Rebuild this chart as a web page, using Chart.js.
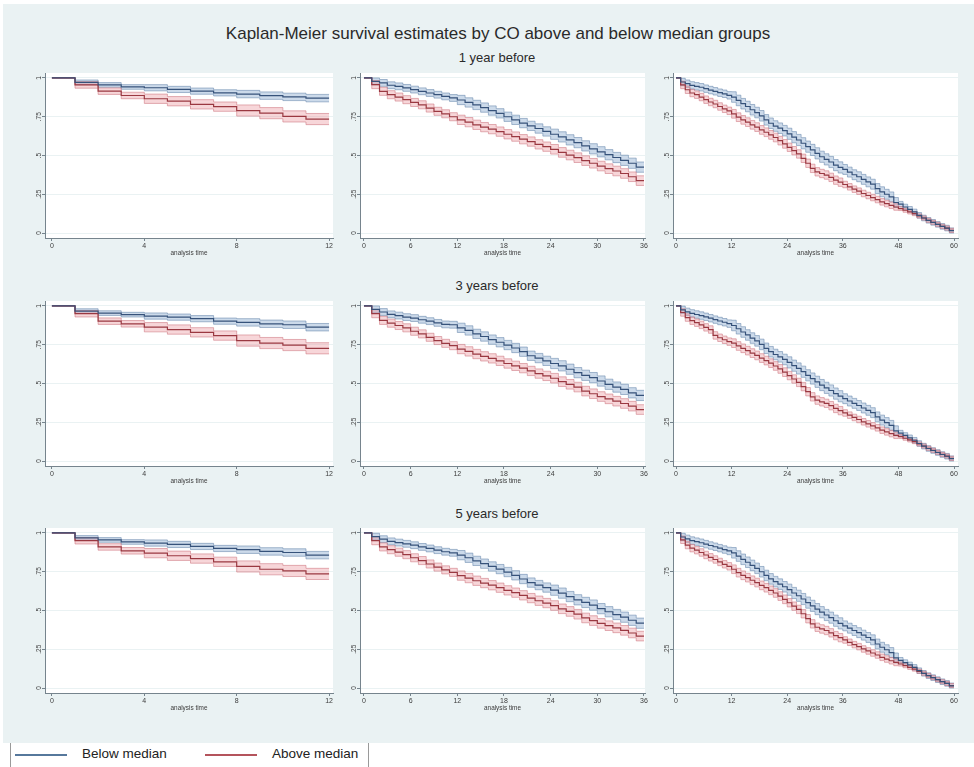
<!DOCTYPE html>
<html><head><meta charset="utf-8">
<script src="https://cdn.jsdelivr.net/npm/chart.js@4.4.1/dist/chart.umd.min.js"></script>
<style>
html,body{margin:0;padding:0;background:#fff;width:974px;height:767px;overflow:hidden;font-family:"Liberation Sans",Arial,sans-serif;}
#graph{position:absolute;left:3px;top:4px;width:971px;height:739px;background:#eaf2f3;}
.t{position:absolute;white-space:nowrap;color:#2a2a2a;transform:translateX(-50%);line-height:1;}
canvas{position:absolute;}
#legend{position:absolute;left:0;top:743px;width:974px;height:24px;background:#fff;}
.vl{position:absolute;top:0;width:1px;height:24px;background:#9a9a9a;}
.ll{position:absolute;height:1.5px;top:11px;}
.lt{position:absolute;top:4px;font-size:13.5px;color:#222;line-height:1;}
</style></head>
<body>
<div id="graph"></div>
<div class="t" id="mainTitle" style="left:498px;top:25px;font-size:17px;"></div>
<div id="legend">
  <div class="vl" style="left:10px"></div>
  <div class="ll" style="left:15px;width:52px;background:#56789c"></div>
  <div class="lt" id="lg0" style="left:82px"></div>
  <div class="ll" style="left:205px;width:52px;background:#b4545c"></div>
  <div class="lt" id="lg1" style="left:272px"></div>
  <div class="vl" style="left:368px"></div>
</div>
<script>
// ---------------- data ----------------
const mainTitle = 'Kaplan-Meier survival estimates by CO above and below median groups';
const rowTitles = ['1 year before', '3 years before', '5 years before'];
const seriesNames = ['Below median', 'Above median'];
const xAxisTitle = 'analysis time';
const yTicks = [0, 0.25, 0.5, 0.75, 1];
const yTickLabels = ['0', '.25', '.5', '.75', '1'];
const timeTicks12 = [0, 4, 8, 12];
const timeTicks36 = [0, 6, 12, 18, 24, 30, 36];
const timeTicks60 = [0, 12, 24, 36, 48, 60];

// survival estimate on each monthly interval [t, t+1)
const below_1y_12 = [1, 0.972, 0.955, 0.942, 0.937, 0.926, 0.915, 0.904, 0.896, 0.886, 0.878, 0.870];
const above_1y_12 = [1, 0.955, 0.915, 0.887, 0.866, 0.850, 0.830, 0.815, 0.790, 0.773, 0.752, 0.735];
const below_1y_36 = [1, 0.978, 0.968, 0.953, 0.946, 0.936, 0.925, 0.914, 0.903, 0.892, 0.881, 0.871,
  0.858, 0.842, 0.826, 0.809, 0.790, 0.772, 0.750, 0.730, 0.709, 0.691, 0.674, 0.655,
  0.637, 0.620, 0.601, 0.583, 0.562, 0.543, 0.524, 0.505, 0.487, 0.469, 0.450, 0.425];
const above_1y_36 = [1, 0.957, 0.914, 0.892, 0.877, 0.860, 0.842, 0.827, 0.806, 0.785, 0.769, 0.750,
  0.730, 0.715, 0.698, 0.683, 0.670, 0.654, 0.637, 0.622, 0.605, 0.590, 0.572, 0.557,
  0.540, 0.520, 0.503, 0.486, 0.467, 0.450, 0.432, 0.415, 0.400, 0.384, 0.363, 0.338];
const below_1y_60 = [1, 0.974, 0.963, 0.952, 0.946, 0.940, 0.931, 0.922, 0.914, 0.905, 0.898, 0.888,
  0.877, 0.855, 0.834, 0.816, 0.795, 0.777, 0.756, 0.730, 0.708, 0.690, 0.676, 0.660,
  0.640, 0.618, 0.600, 0.579, 0.557, 0.536, 0.514, 0.492, 0.475, 0.458, 0.438, 0.423,
  0.410, 0.393, 0.376, 0.363, 0.346, 0.330, 0.315, 0.287, 0.266, 0.250, 0.233, 0.197,
  0.186, 0.168, 0.153, 0.136, 0.114, 0.097, 0.082, 0.069, 0.056, 0.043, 0.032, 0.015];
const above_1y_60 = [1, 0.955, 0.924, 0.903, 0.892, 0.877, 0.860, 0.845, 0.832, 0.816, 0.801, 0.788,
  0.769, 0.747, 0.730, 0.715, 0.698, 0.683, 0.665, 0.650, 0.633, 0.616, 0.596, 0.575,
  0.553, 0.531, 0.510, 0.482, 0.450, 0.417, 0.395, 0.384, 0.374, 0.359, 0.341, 0.328,
  0.313, 0.298, 0.283, 0.270, 0.255, 0.242, 0.229, 0.216, 0.201, 0.190, 0.179, 0.168,
  0.158, 0.147, 0.136, 0.125, 0.110, 0.097, 0.082, 0.069, 0.056, 0.043, 0.032, 0.017];

const below_3y_12 = [1, 0.967, 0.954, 0.944, 0.935, 0.928, 0.918, 0.902, 0.894, 0.885, 0.879, 0.863];
const above_3y_12 = [1, 0.950, 0.902, 0.885, 0.863, 0.848, 0.830, 0.809, 0.777, 0.761, 0.748, 0.727];
const below_3y_36 = [1, 0.978, 0.961, 0.946, 0.938, 0.928, 0.922, 0.911, 0.902, 0.891, 0.881, 0.879,
  0.859, 0.842, 0.820, 0.803, 0.783, 0.766, 0.748, 0.729, 0.705, 0.679, 0.664, 0.646,
  0.629, 0.614, 0.592, 0.570, 0.553, 0.538, 0.516, 0.495, 0.477, 0.462, 0.440, 0.423];
const above_3y_36 = [1, 0.950, 0.907, 0.889, 0.874, 0.859, 0.837, 0.820, 0.798, 0.777, 0.759, 0.744,
  0.722, 0.707, 0.690, 0.675, 0.662, 0.646, 0.629, 0.614, 0.599, 0.581, 0.564, 0.549,
  0.534, 0.512, 0.495, 0.477, 0.451, 0.434, 0.416, 0.401, 0.386, 0.371, 0.354, 0.332];
const below_3y_60 = [1, 0.975, 0.962, 0.952, 0.945, 0.938, 0.930, 0.921, 0.912, 0.903, 0.895, 0.886,
  0.874, 0.853, 0.832, 0.813, 0.793, 0.775, 0.752, 0.727, 0.705, 0.687, 0.672, 0.655,
  0.636, 0.615, 0.597, 0.576, 0.553, 0.532, 0.511, 0.490, 0.472, 0.455, 0.435, 0.418,
  0.402, 0.387, 0.372, 0.358, 0.342, 0.327, 0.312, 0.285, 0.264, 0.248, 0.230, 0.195,
  0.180, 0.165, 0.150, 0.134, 0.113, 0.096, 0.081, 0.068, 0.055, 0.042, 0.031, 0.015];
const above_3y_60 = [1, 0.958, 0.925, 0.905, 0.892, 0.878, 0.862, 0.848, 0.810, 0.795, 0.782, 0.770,
  0.760, 0.742, 0.727, 0.712, 0.696, 0.681, 0.664, 0.648, 0.631, 0.613, 0.594, 0.573,
  0.551, 0.529, 0.507, 0.480, 0.447, 0.414, 0.393, 0.382, 0.372, 0.357, 0.339, 0.325,
  0.310, 0.296, 0.281, 0.268, 0.253, 0.240, 0.227, 0.214, 0.199, 0.188, 0.177, 0.166,
  0.158, 0.147, 0.136, 0.125, 0.110, 0.097, 0.082, 0.069, 0.056, 0.043, 0.032, 0.017];

const below_5y_12 = [1, 0.968, 0.955, 0.942, 0.935, 0.926, 0.913, 0.900, 0.892, 0.881, 0.874, 0.857];
const above_5y_12 = [1, 0.950, 0.910, 0.885, 0.870, 0.853, 0.835, 0.814, 0.784, 0.766, 0.755, 0.736];
const below_5y_36 = [1, 0.976, 0.960, 0.946, 0.938, 0.930, 0.921, 0.910, 0.900, 0.889, 0.879, 0.872,
  0.857, 0.840, 0.820, 0.802, 0.784, 0.767, 0.748, 0.727, 0.703, 0.680, 0.664, 0.648,
  0.631, 0.612, 0.590, 0.569, 0.552, 0.535, 0.512, 0.492, 0.474, 0.457, 0.437, 0.418];
const above_5y_36 = [1, 0.950, 0.910, 0.892, 0.876, 0.860, 0.840, 0.822, 0.800, 0.780, 0.762, 0.746,
  0.725, 0.709, 0.692, 0.677, 0.663, 0.647, 0.630, 0.615, 0.598, 0.580, 0.563, 0.548,
  0.532, 0.511, 0.494, 0.476, 0.452, 0.435, 0.417, 0.402, 0.388, 0.372, 0.355, 0.335];
const below_5y_60 = [1, 0.974, 0.962, 0.951, 0.944, 0.937, 0.928, 0.919, 0.911, 0.902, 0.893, 0.884,
  0.872, 0.851, 0.830, 0.811, 0.791, 0.772, 0.750, 0.726, 0.704, 0.686, 0.670, 0.653,
  0.634, 0.613, 0.595, 0.574, 0.551, 0.530, 0.509, 0.489, 0.471, 0.454, 0.434, 0.417,
  0.401, 0.386, 0.371, 0.357, 0.341, 0.326, 0.311, 0.284, 0.263, 0.247, 0.229, 0.194,
  0.179, 0.164, 0.149, 0.133, 0.112, 0.095, 0.080, 0.067, 0.054, 0.041, 0.030, 0.014];
const above_5y_60 = [1, 0.956, 0.922, 0.902, 0.889, 0.874, 0.858, 0.843, 0.829, 0.813, 0.798, 0.785,
  0.766, 0.744, 0.727, 0.712, 0.695, 0.680, 0.662, 0.647, 0.630, 0.613, 0.593, 0.572,
  0.550, 0.528, 0.507, 0.479, 0.447, 0.414, 0.392, 0.381, 0.371, 0.356, 0.338, 0.325,
  0.310, 0.295, 0.280, 0.267, 0.252, 0.239, 0.226, 0.213, 0.198, 0.187, 0.176, 0.165,
  0.155, 0.144, 0.133, 0.122, 0.108, 0.095, 0.080, 0.067, 0.054, 0.041, 0.030, 0.016];

// 95% CI half-widths, one value per consecutive block of months
const ci_below_12 = [0.015, 0.020, 0.024];
const ci_above_12 = [0.021, 0.030, 0.036];
const ci_below_36 = [0.022, 0.030, 0.033];
const ci_above_36 = [0.026, 0.030, 0.031];
const ci_below_60 = [0.024, 0.034, 0.036, 0.032, 0.018];
const ci_above_60 = [0.024, 0.028, 0.027, 0.021, 0.013];

// ---------------- layout / style ----------------
const colGeo = [
  {left: 45, w: 288, min: -0.30, max: 12.17, ticks: timeTicks12, ciB: ci_below_12, ciA: ci_above_12},
  {left: 360, w: 285, min: -0.51, max: 36.13, ticks: timeTicks36, ciB: ci_below_36, ciA: ci_above_36},
  {left: 673, w: 285, min: -0.65, max: 60.86, ticks: timeTicks60, ciB: ci_below_60, ciA: ci_above_60}
];
const rowTops = [73, 301, 528];
const rowTitleY = [51, 279, 507];
const plotH = 165;
const panelData = [
  [[below_1y_12, above_1y_12], [below_1y_36, above_1y_36], [below_1y_60, above_1y_60]],
  [[below_3y_12, above_3y_12], [below_3y_36, above_3y_36], [below_3y_60, above_3y_60]],
  [[below_5y_12, above_5y_12], [below_5y_36, above_5y_36], [below_5y_60, above_5y_60]]
];
const AXIS = '#76848d';
const FONT = '"Liberation Sans", Arial, sans-serif';

document.getElementById('mainTitle').textContent = mainTitle;
document.getElementById('lg0').textContent = seriesNames[0];
document.getElementById('lg1').textContent = seriesNames[1];
rowTitles.forEach((t, i) => {
  const d = document.createElement('div');
  d.className = 't'; d.textContent = t;
  d.style.left = '497px'; d.style.top = rowTitleY[i] + 'px'; d.style.fontSize = '13px';
  document.body.appendChild(d);
});

function stepPts(vals) {
  const pts = vals.map((v, i) => ({x: i, y: v}));
  pts.push({x: vals.length, y: vals[vals.length - 1]});
  return pts;
}
function bandPts(vals, half, sign) {
  const blk = vals.length / half.length;
  const pts = vals.map((v, i) => {
    const h = v >= 1 ? 0 : half[Math.min(half.length - 1, Math.floor(i / blk))];
    return {x: i, y: Math.max(0, Math.min(1, v + sign * h))};
  });
  pts.push({x: vals.length, y: pts[pts.length - 1].y});
  return pts;
}

const plotBg = {
  id: 'plotBg',
  beforeDraw(chart) {
    const {ctx, chartArea: a} = chart;
    ctx.save(); ctx.fillStyle = '#ffffff';
    ctx.fillRect(a.left, a.top, a.right - a.left, a.bottom - a.top);
    ctx.restore();
  }
};
const axisText = {
  id: 'axisText',
  afterDraw(chart) {
    const {ctx, chartArea: a} = chart;
    const xs = chart.scales.x, ys = chart.scales.y;
    ctx.save();
    ctx.fillStyle = '#3c3c3c';
    ctx.font = '6.5px ' + FONT;
    ctx.textAlign = 'center'; ctx.textBaseline = 'middle';
    yTicks.forEach((v, i) => {
      ctx.save();
      ctx.translate(a.left - 6, ys.getPixelForValue(v));
      ctx.rotate(-Math.PI / 2);
      ctx.fillText(yTickLabels[i], 0, 0);
      ctx.restore();
    });
    ctx.font = '7px ' + FONT;
    chart.options.plugins.axisText.ticks.forEach(v => {
      ctx.fillText(String(v), xs.getPixelForValue(v), a.bottom + 8);
    });
    ctx.font = '6.4px ' + FONT;
    ctx.fillText(xAxisTitle, (a.left + a.right) / 2, a.bottom + 15.5);
    ctx.restore();
  }
};

rowTops.forEach((top, r) => {
  colGeo.forEach((g, c) => {
    const [below, above] = panelData[r][c];
    const cv = document.createElement('canvas');
    const W = g.w + 40, H = plotH + 35;
    cv.width = W; cv.height = H;
    cv.style.left = (g.left - 30) + 'px'; cv.style.top = (top - 10) + 'px';
    cv.style.width = W + 'px'; cv.style.height = H + 'px';
    document.body.appendChild(cv);
    const lineBase = {pointRadius: 0, stepped: 'before', fill: false, tension: 0};
    new Chart(cv, {
      type: 'line',
      data: {datasets: [
        {...lineBase, label: seriesNames[0], data: stepPts(below), borderColor: '#36527a', borderWidth: 1.2, order: 0},
        {...lineBase, label: seriesNames[1], data: stepPts(above), borderColor: '#9a3841', borderWidth: 1.2, order: 0},
        {...lineBase, label: 'b_hi', data: bandPts(below, g.ciB, 1), borderColor: 'rgba(100,132,170,0.7)', borderWidth: 0.8, order: 2},
        {...lineBase, label: 'b_lo', data: bandPts(below, g.ciB, -1), borderColor: 'rgba(100,132,170,0.7)', borderWidth: 0.8, order: 2,
          fill: {target: 2}, backgroundColor: 'rgba(120,158,200,0.38)'},
        {...lineBase, label: 'a_hi', data: bandPts(above, g.ciA, 1), borderColor: 'rgba(205,115,125,0.7)', borderWidth: 0.8, order: 1},
        {...lineBase, label: 'a_lo', data: bandPts(above, g.ciA, -1), borderColor: 'rgba(205,115,125,0.7)', borderWidth: 0.8, order: 1,
          fill: {target: 4}, backgroundColor: 'rgba(232,140,150,0.36)'}
      ]},
      options: {
        responsive: false, animation: false, devicePixelRatio: 1,
        layout: {padding: {top: 10, right: 10, left: 0, bottom: 0}},
        plugins: {legend: {display: false}, tooltip: {enabled: false}, title: {display: false},
          axisText: {ticks: g.ticks}},
        scales: {
          x: {type: 'linear', min: g.min, max: g.max,
            afterBuildTicks: s => { s.ticks = g.ticks.map(v => ({value: v})); },
            afterFit: s => { s.height = 25; },
            ticks: {display: false},
            grid: {drawOnChartArea: false, drawTicks: true, tickLength: 3, tickColor: AXIS},
            border: {display: true, color: AXIS, width: 1}},
          y: {type: 'linear', min: -0.032, max: 1.032,
            afterBuildTicks: s => { s.ticks = yTicks.map(v => ({value: v})); },
            afterFit: s => { s.width = 30; },
            ticks: {display: false},
            grid: {color: '#eaf2f3', lineWidth: 1, drawTicks: true, tickLength: 3, tickColor: AXIS},
            border: {display: true, color: AXIS, width: 1}}
        }
      },
      plugins: [plotBg, axisText]
    });
  });
});
</script>
</body></html>
